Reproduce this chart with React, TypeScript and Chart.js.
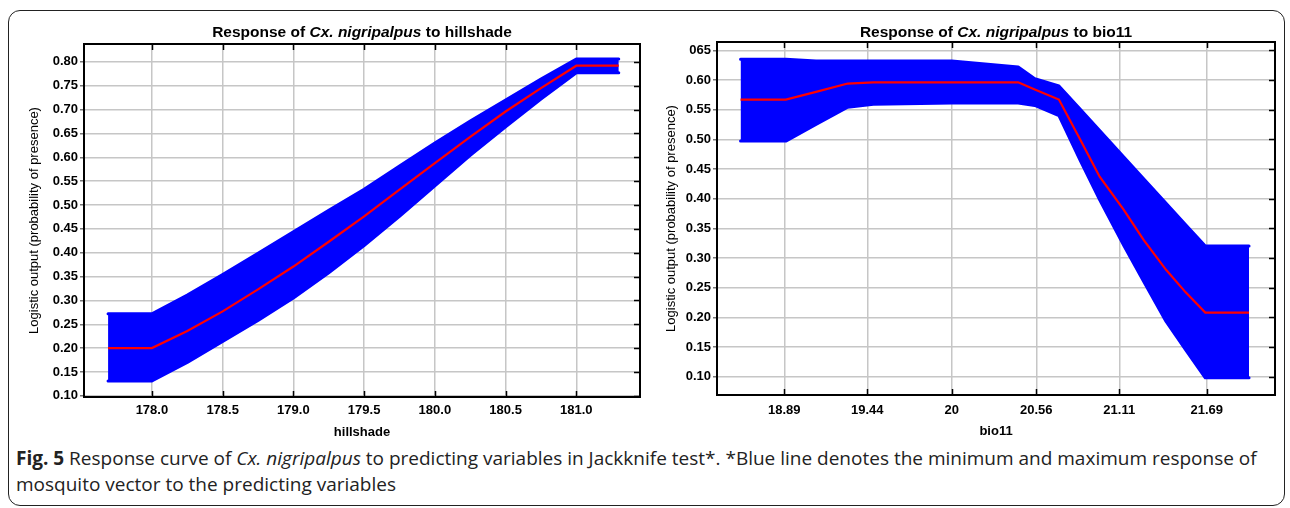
import React, { useEffect, useRef } from 'react';
import { Chart, registerables } from 'chart.js';

Chart.register(...registerables);

// ---------- Left panel: hillshade ----------
const hillshadeX = [177.69, 178.0, 178.25, 178.5, 178.75, 179.0, 179.25, 179.5, 179.75, 180.0, 180.25, 180.5, 180.75, 181.0, 181.3];
const hillshadeMean = [0.200, 0.200, 0.236, 0.277, 0.323, 0.371, 0.423, 0.476, 0.532, 0.588, 0.643, 0.696, 0.745, 0.792, 0.792];
const hillshadeUpper = [0.272, 0.272, 0.311, 0.354, 0.399, 0.444, 0.489, 0.533, 0.582, 0.630, 0.676, 0.720, 0.764, 0.806, 0.806];
const hillshadeLower = [0.131, 0.131, 0.170, 0.214, 0.258, 0.305, 0.358, 0.415, 0.476, 0.540, 0.604, 0.664, 0.722, 0.777, 0.777];
const hillshadeXTicks = [178.0, 178.5, 179.0, 179.5, 180.0, 180.5, 181.0];
const hillshadeXLabels = ['178.0', '178.5', '179.0', '179.5', '180.0', '180.5', '181.0'];
const hillshadeYTicks = [0.10, 0.15, 0.20, 0.25, 0.30, 0.35, 0.40, 0.45, 0.50, 0.55, 0.60, 0.65, 0.70, 0.75, 0.80];
const hillshadeYLabels = ['0.10', '0.15', '0.20', '0.25', '0.30', '0.35', '0.40', '0.45', '0.50', '0.55', '0.60', '0.65', '0.70', '0.75', '0.80'];

// ---------- Right panel: bio11 ----------
const bio11X = [18.60, 18.90, 19.10, 19.31, 19.48, 20.0, 20.44, 20.55, 20.71, 20.85, 20.98, 21.14, 21.27, 21.42, 21.55, 21.68, 21.97];
const bio11Mean = [0.567, 0.567, 0.580, 0.594, 0.596, 0.596, 0.596, 0.584, 0.567, 0.500, 0.437, 0.381, 0.331, 0.280, 0.242, 0.208, 0.208];
const bio11Upper = [0.635, 0.635, 0.632, 0.632, 0.632, 0.632, 0.622, 0.602, 0.590, 0.551, 0.515, 0.470, 0.434, 0.392, 0.356, 0.320, 0.320];
const bio11Lower = [0.497, 0.497, 0.525, 0.554, 0.559, 0.561, 0.561, 0.557, 0.540, 0.465, 0.398, 0.321, 0.261, 0.193, 0.145, 0.098, 0.098];
const bio11XTicks = [18.89, 19.44, 20, 20.56, 21.11, 21.69];
const bio11XLabels = ['18.89', '19.44', '20', '20.56', '21.11', '21.69'];
const bio11YTicks = [0.10, 0.15, 0.20, 0.25, 0.30, 0.35, 0.40, 0.45, 0.50, 0.55, 0.60, 0.65];
const bio11YLabels = ['0.10', '0.15', '0.20', '0.25', '0.30', '0.35', '0.40', '0.45', '0.50', '0.55', '0.60', '065'];

const Y_TITLE = 'Logistic output (probability of presence)';
const FONT = '"Liberation Sans", Arial, Helvetica, sans-serif';

const boxPlugin = {
  id: 'boxTicks',
  afterDraw(chart: any) {
    const { ctx, chartArea, scales } = chart;
    const { left, right, top, bottom } = chartArea;
    const x = scales.x;
    const y = scales.y;
    ctx.save();
    ctx.strokeStyle = '#000';
    ctx.lineWidth = 1.5;
    ctx.beginPath();
    for (const t of x.ticks) {
      const px = Math.round(x.getPixelForValue(t.value)) + 0.5;
      ctx.moveTo(px, bottom);
      ctx.lineTo(px, bottom - 6);
      ctx.moveTo(px, top);
      ctx.lineTo(px, top + 6);
    }
    for (const t of y.ticks) {
      const py = Math.round(y.getPixelForValue(t.value)) + 0.5;
      ctx.moveTo(right, py);
      ctx.lineTo(right - 6, py);
    }
    ctx.stroke();
    ctx.lineWidth = 2;
    ctx.strokeRect(left, top, right - left, bottom - top);
    ctx.restore();
  },
};

type PanelProps = {
  left: number;
  width: number;
  height: number;
  plotLeft: number;
  plotRight: number;
  plotTop: number;
  plotBottom: number;
  yTitlePad: number;
  xLabelPad: number;
  xTitlePad: number;
  xs: number[];
  mean: number[];
  upper: number[];
  lower: number[];
  xTicks: number[];
  xLabels: string[];
  yTicks: number[];
  yLabels: string[];
  xMin: number;
  xMax: number;
  yMin: number;
  yMax: number;
  xTitle: string;
  variable: string;
};

function Panel(p: PanelProps) {
  const ref = useRef<HTMLCanvasElement>(null);
  useEffect(() => {
    const toPts = (ys: number[]) => p.xs.map((x, i) => ({ x, y: ys[i] }));
    const chart = new Chart(ref.current as HTMLCanvasElement, {
      type: 'line',
      data: {
        datasets: [
          {
            label: 'mean',
            data: toPts(p.mean),
            borderColor: '#ff0000',
            borderWidth: 2.2,
            pointRadius: 0,
            fill: false,
            tension: 0,
          },
          {
            label: 'max',
            data: toPts(p.upper),
            borderColor: '#0000ff',
            backgroundColor: '#0000ff',
            borderWidth: 3,
            borderCapStyle: 'round',
            borderJoinStyle: 'round',
            pointRadius: 0,
            fill: '+1',
            tension: 0,
          },
          {
            label: 'min',
            data: toPts(p.lower),
            borderColor: '#0000ff',
            borderWidth: 3,
            borderCapStyle: 'round',
            borderJoinStyle: 'round',
            pointRadius: 0,
            fill: false,
            tension: 0,
          },
        ],
      } as any,
      options: {
        responsive: false,
        animation: false,
        devicePixelRatio: 1,
        layout: {
          padding: { left: 0, top: p.plotTop, right: p.width - p.plotRight, bottom: 0 },
        },
        plugins: {
          legend: { display: false },
          tooltip: { enabled: false },
          title: { display: false },
        },
        scales: {
          x: {
            type: 'linear',
            min: p.xMin,
            max: p.xMax,
            afterBuildTicks: (s: any) => {
              s.ticks = p.xTicks.map((v) => ({ value: v }));
            },
            afterFit: (s: any) => {
              s.height = p.height - p.plotBottom;
            },
            ticks: {
              autoSkip: false,
              maxRotation: 0,
              padding: p.xLabelPad,
              color: '#000',
              font: { family: FONT, size: 13, weight: 'bold' },
              callback: (_v: any, i: number) => p.xLabels[i],
            },
            grid: { color: '#c6c6c6', lineWidth: 1.5, drawTicks: false },
            border: { display: false },
            title: {
              display: true,
              text: p.xTitle,
              color: '#000',
              font: { family: FONT, size: 13, weight: 'bold' },
              padding: { top: 0, bottom: p.xTitlePad },
            },
          },
          y: {
            type: 'linear',
            min: p.yMin,
            max: p.yMax,
            afterBuildTicks: (s: any) => {
              s.ticks = p.yTicks.map((v) => ({ value: v }));
            },
            afterFit: (s: any) => {
              s.width = p.plotLeft;
            },
            ticks: {
              autoSkip: false,
              padding: 2,
              color: '#000',
              font: { family: FONT, size: 13, weight: 'bold' },
              callback: (_v: any, i: number) => p.yLabels[i],
            },
            grid: { color: '#c6c6c6', lineWidth: 1.5, tickLength: 4, tickColor: '#777' },
            border: { display: false },
            title: {
              display: true,
              text: Y_TITLE,
              color: '#000',
              font: { family: FONT, size: 13, weight: 'normal' },
              padding: { top: p.yTitlePad, bottom: 0 },
            },
          },
        },
      } as any,
      plugins: [boxPlugin],
    });
    return () => chart.destroy();
  }, []);

  const plotW = p.plotRight - p.plotLeft;
  return (
    <div style={{ position: 'absolute', left: p.left, top: 0, width: p.width, height: p.height }}>
      <canvas ref={ref} width={p.width} height={p.height} style={{ display: 'block' }} />
      <div
        style={{
          position: 'absolute',
          left: p.plotLeft,
          width: plotW,
          top: 23,
          textAlign: 'center',
          fontFamily: FONT,
          fontWeight: 'bold',
          fontSize: 15.5,
          lineHeight: '18px',
          color: '#000',
          whiteSpace: 'nowrap',
        }}
      >
        Response of <i>Cx. nigripalpus</i> to {p.variable}
      </div>
    </div>
  );
}

export default function App() {
  return (
    <div style={{ position: 'absolute', left: 0, top: 0, width: 1290, height: 508, background: '#fff', overflow: 'hidden' }}>
      <div
        style={{
          position: 'absolute',
          left: 8,
          top: 10,
          width: 1277,
          height: 496,
          border: '1.5px solid #222',
          borderRadius: 12,
          boxSizing: 'border-box',
        }}
      />
      <Panel
        left={0}
        width={650}
        height={445}
        plotLeft={84}
        plotRight={640}
        plotTop={44}
        plotBottom={397}
        yTitlePad={27}
        xLabelPad={6}
        xTitlePad={5}
        xs={hillshadeX}
        mean={hillshadeMean}
        upper={hillshadeUpper}
        lower={hillshadeLower}
        xTicks={hillshadeXTicks}
        xLabels={hillshadeXLabels}
        yTicks={hillshadeYTicks}
        yLabels={hillshadeYLabels}
        xMin={177.52}
        xMax={181.45}
        yMin={0.0975}
        yMax={0.8375}
        xTitle="hillshade"
        variable="hillshade"
      />
      <Panel
        left={650}
        width={640}
        height={445}
        plotLeft={67}
        plotRight={625}
        plotTop={42}
        plotBottom={395}
        yTitlePad={14}
        xLabelPad={8}
        xTitlePad={6}
        xs={bio11X}
        mean={bio11Mean}
        upper={bio11Upper}
        lower={bio11Lower}
        xTicks={bio11XTicks}
        xLabels={bio11XLabels}
        yTicks={bio11YTicks}
        yLabels={bio11YLabels}
        xMin={18.444}
        xMax={22.142}
        yMin={0.069}
        yMax={0.664}
        xTitle="bio11"
        variable="bio11"
      />
      <div
        style={{
          position: 'absolute',
          left: 16,
          top: 445,
          fontFamily: '"Open Sans", sans-serif',
          fontSize: 19,
          lineHeight: '26px',
          color: '#222',
          whiteSpace: 'nowrap',
        }}
      >
        <b>Fig. 5</b> Response curve of <i>Cx. nigripalpus</i> to predicting variables in Jackknife test*. *Blue line denotes the minimum and maximum response of
        <br />
        mosquito vector to the predicting variables
      </div>
    </div>
  );
}
